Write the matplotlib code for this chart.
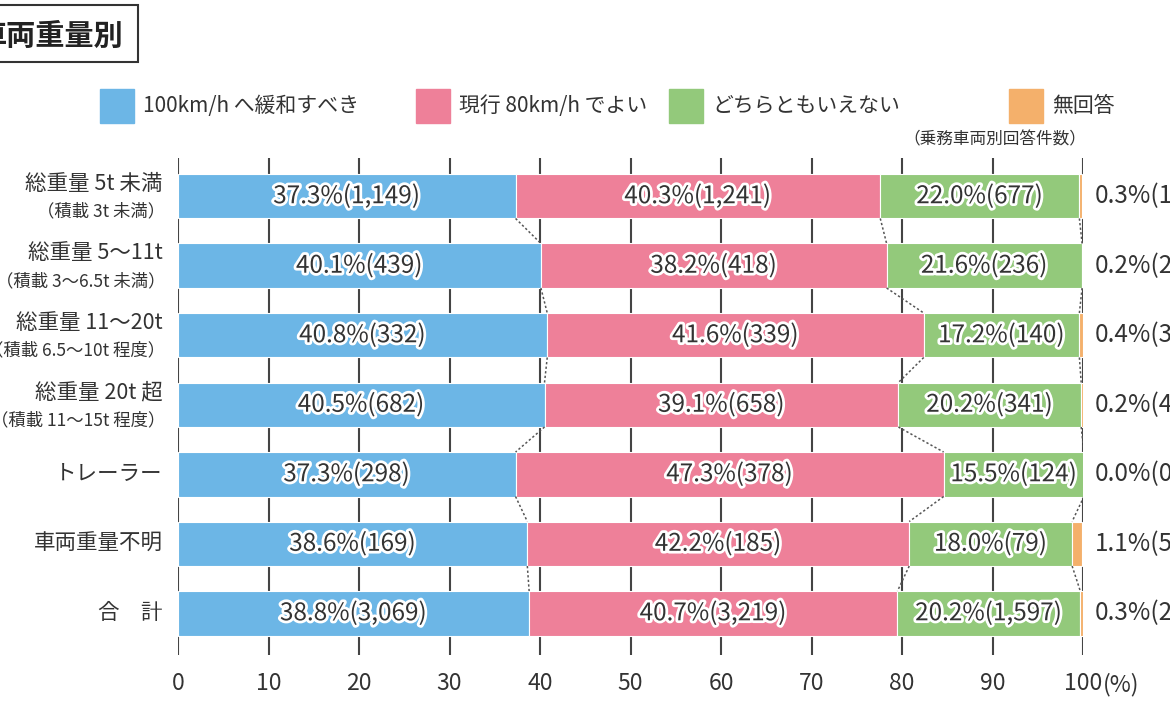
import matplotlib
matplotlib.use('Agg')
import matplotlib.pyplot as plt
import matplotlib.patheffects as pe
from matplotlib.patches import Rectangle
import numpy as np

plt.rcParams['font.family'] = ['Noto Sans CJK JP', 'DejaVu Sans']

# data
categories = ['総重量 5t 未満', '総重量 5〜11t', '総重量 11〜20t', '総重量 20t 超',
              'トレーラー', '車両重量不明', '合　計']
sublabels = ['（積載 3t 未満）', '（積載 3〜6.5t 未満）', '（積載 6.5〜10t 程度）',
             '（積載 11〜15t 程度）', '', '', '']
series_names = ['100km/h へ緩和すべき', '現行 80km/h でよい', 'どちらともいえない', '無回答']
pct_relax = [37.3, 40.1, 40.8, 40.5, 37.3, 38.6, 38.8]
n_relax = [1149, 439, 332, 682, 298, 169, 3069]
pct_keep = [40.3, 38.2, 41.6, 39.1, 47.3, 42.2, 40.7]
n_keep = [1241, 418, 339, 658, 378, 185, 3219]
pct_neither = [22.0, 21.6, 17.2, 20.2, 15.5, 18.0, 20.2]
n_neither = [677, 236, 140, 341, 124, 79, 1597]
pct_none = [0.3, 0.2, 0.4, 0.2, 0.0, 1.1, 0.3]
n_none = [10, 2, 3, 4, 0, 5, 24]
xticks = [0, 10, 20, 30, 40, 50, 60, 70, 80, 90, 100]

colors = ['#6cb6e6', '#ee8099', '#93c97b', '#f4b06b']
txt_col = '#333333'

W, H = 1170, 711
fig = plt.figure(figsize=(W / 100, H / 100), dpi=100)
ax = fig.add_axes([178 / W, 56 / H, 905 / W, 497 / H])

y = np.arange(len(categories))
bh = 0.64
pcts = [pct_relax, pct_keep, pct_neither, pct_none]
counts = [n_relax, n_keep, n_neither, n_none]

left = np.zeros(len(categories))
bounds = []
for k in range(4):
    vals = np.array(pcts[k])
    ax.barh(y, vals, left=left, height=bh, color=colors[k], edgecolor='white',
            linewidth=0.8, zorder=2)
    if k < 3:
        for i in range(len(categories)):
            ax.text(left[i] + vals[i] / 2, y[i], f'{vals[i]:.1f}%({counts[k][i]:,})',
                    ha='center', va='center', fontsize=17.5, color=txt_col, zorder=4,
                    path_effects=[pe.withStroke(linewidth=4, foreground='white')])
    left = left + vals
    bounds.append(left.copy())

# no-answer labels outside the bars (cut off by the figure edge, as in the source)
for i in range(len(categories)):
    ax.text(101.3, y[i], f'{pct_none[i]:.1f}%({n_none[i]:,})', ha='left', va='center',
            fontsize=17.5, color=txt_col, clip_on=False)

# dotted connectors between rows
for b in bounds[:3]:
    for i in range(len(categories) - 1):
        ax.plot([b[i], b[i + 1]], [y[i] + bh / 2, y[i + 1] - bh / 2], ls=(0, (1.5, 1.5)),
                color='#555555', lw=1.1, zorder=3)

ax.set_xlim(0, 100)
ax.set_ylim(len(categories) - 0.4, -0.55)
ax.set_xticks(xticks)
ax.set_xticklabels([str(t) for t in xticks], fontsize=16.5, color=txt_col)
ax.tick_params(axis='x', length=0, pad=12)
ax.set_yticks([])
ax.set_axisbelow(True)
ax.grid(axis='x', color='#444444', lw=1.5, zorder=0)
for s in ax.spines.values():
    s.set_visible(False)
ax.annotate('(%)', xy=(100, 0), xycoords=('data', 'axes fraction'), xytext=(14, -21.5),
            textcoords='offset points', ha='left', va='center', fontsize=16.5, color=txt_col)

# category labels
for i in range(len(categories)):
    if sublabels[i]:
        ax.annotate(categories[i], xy=(0, y[i]), xytext=(-11, 9), textcoords='offset points',
                    ha='right', va='center', fontsize=15.5, color=txt_col)
        ax.annotate(sublabels[i], xy=(0, y[i]), xytext=(-9, -11), textcoords='offset points',
                    ha='right', va='center', fontsize=12.5, color=txt_col)
    else:
        ax.annotate(categories[i], xy=(0, y[i]), xytext=(-11, 0), textcoords='offset points',
                    ha='right', va='center', fontsize=15.5, color=txt_col)

# legend
leg_x = [100, 416, 669, 1009]
for k in range(4):
    fig.add_artist(Rectangle((leg_x[k] / W, 1 - 123 / H), 34 / W, 34 / H,
                             transform=fig.transFigure, color=colors[k]))
    fig.text((leg_x[k] + 43) / W, 1 - 106 / H, series_names[k], ha='left', va='center',
             fontsize=15, color=txt_col)
fig.text(1086 / W, 1 - 140 / H, '（乗務車両別回答件数）', ha='right', va='center',
         fontsize=12, color=txt_col)

# title box (cut at the left edge)
fig.add_artist(Rectangle((-10 / W, 1 - 62 / H), 148 / W, 57 / H, transform=fig.transFigure,
                         fill=False, edgecolor='#333333', lw=1.5))
fig.text(123 / W, 1 - 36 / H, '車両重量別', ha='right', va='center', fontsize=21,
         fontweight='bold', color='#222222')

fig.savefig('out.png', dpi=100)
